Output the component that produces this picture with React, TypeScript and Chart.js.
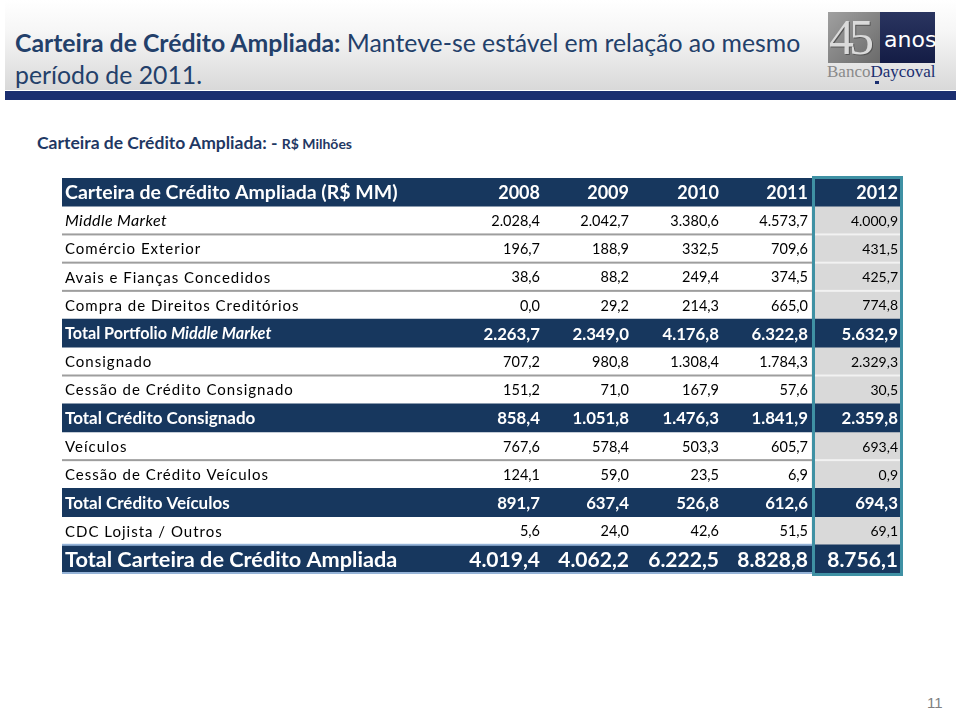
import React, { useEffect, useRef } from "react";
import { Chart, registerables } from "chart.js";

Chart.register(...registerables);

// ---------- DATA ----------
const headerTitle = "Carteira de Crédito Ampliada (R$ MM)";
const years = ["2008", "2009", "2010", "2011", "2012"];
const rowLabels = [
  "Middle Market",
  "Comércio Exterior",
  "Avais e Fianças Concedidos",
  "Compra de Direitos Creditórios",
  "Total Portfolio Middle Market",
  "Consignado",
  "Cessão de Crédito Consignado",
  "Total Crédito Consignado",
  "Veículos",
  "Cessão de Crédito Veículos",
  "Total Crédito Veículos",
  "CDC Lojista / Outros",
  "Total Carteira de Crédito Ampliada",
];
const rowKinds = ["item", "item", "item", "item", "total", "item", "item", "total", "item", "item", "total", "item", "grand"];
const v2008 = [2028.4, 196.7, 38.6, 0.0, 2263.7, 707.2, 151.2, 858.4, 767.6, 124.1, 891.7, 5.6, 4019.4];
const v2009 = [2042.7, 188.9, 88.2, 29.2, 2349.0, 980.8, 71.0, 1051.8, 578.4, 59.0, 637.4, 24.0, 4062.2];
const v2010 = [3380.6, 332.5, 249.4, 214.3, 4176.8, 1308.4, 167.9, 1476.3, 503.3, 23.5, 526.8, 42.6, 6222.5];
const v2011 = [4573.7, 709.6, 374.5, 665.0, 6322.8, 1784.3, 57.6, 1841.9, 605.7, 6.9, 612.6, 51.5, 8828.8];
const v2012 = [4000.9, 431.5, 425.7, 774.8, 5632.9, 2329.3, 30.5, 2359.8, 693.4, 0.9, 694.3, 69.1, 8756.1];
const seriesByYear = [v2008, v2009, v2010, v2011, v2012];

// ---------- LAYOUT / STYLE ----------
const TABLE_W = 841;
const COL_RIGHT = [478, 567, 657, 746, 836];
const COL2012_L = 750;
const LABEL_X = 3;
const NAVY = "#17375E";
const GRAY_CELL = "#D9D9D9";
const TEAL = "#3F91A4";
const FONT = "Lato, 'Open Sans', sans-serif";
const spacedLabels = new Set([
  "Comércio Exterior",
  "Avais e Fianças Concedidos",
  "Compra de Direitos Creditórios",
  "Consignado",
  "Cessão de Crédito Consignado",
  "Veículos",
  "Cessão de Crédito Veículos",
  "CDC Lojista / Outros",
]);

function fmt(v: number) {
  const [i, d] = v.toFixed(1).split(".");
  return i.replace(/\B(?=(\d{3})+(?!\d))/g, ".") + "," + d;
}

const tablePlugin = {
  id: "tableText",
  afterDatasetsDraw(chart: any) {
    const { ctx, scales } = chart;
    const x = scales.x;
    const y = scales.y;
    const xp = (u: number) => x.getPixelForValue(u);
    const kinds = ["header", ...rowKinds];
    const n = kinds.length;
    const rowH = Math.abs(y.getPixelForValue(1) - y.getPixelForValue(0));
    ctx.save();

    // separators
    for (let i = 0; i < n - 1; i++) {
      const yb = (y.getPixelForValue(i) + y.getPixelForValue(i + 1)) / 2;
      if (kinds[i] === "item" && kinds[i + 1] === "item") {
        ctx.fillStyle = "#9E9E9E";
        ctx.fillRect(xp(0), yb - 1, xp(COL2012_L) - xp(0), 2);
        ctx.fillStyle = "#F2F2F2";
        ctx.fillRect(xp(COL2012_L), yb - 1, xp(TABLE_W) - xp(COL2012_L), 2);
      }
      if (kinds[i + 1] === "grand") {
        ctx.fillStyle = "#95B3D7";
        ctx.fillRect(xp(0), yb - 1, xp(COL2012_L) - xp(0), 2);
      }
    }
    const lastBottom = y.getPixelForValue(n - 1) + rowH / 2;
    ctx.fillStyle = "#95B3D7";
    ctx.fillRect(xp(0), lastBottom - 1, xp(COL2012_L) - xp(0), 2);

    ctx.textBaseline = "middle";
    // header row
    const yh = y.getPixelForValue(0) + 1;
    ctx.fillStyle = "#FFFFFF";
    ctx.font = `bold 19.5px ${FONT}`;
    ctx.textAlign = "left";
    ctx.fillText(headerTitle, xp(LABEL_X), yh);
    ctx.textAlign = "right";
    ctx.font = `bold 18px ${FONT}`;
    years.forEach((yr, j) => ctx.fillText(yr, xp(COL_RIGHT[j]), yh));

    rowLabels.forEach((label, r) => {
      const kind = rowKinds[r];
      const yy = y.getPixelForValue(r + 1) + 1;
      const dark = kind !== "item";
      ctx.fillStyle = dark ? "#FFFFFF" : "#000000";
      ctx.textAlign = "left";
      (ctx as any).letterSpacing = "0px";
      if (kind === "item") {
        if (label === "Middle Market") {
          (ctx as any).letterSpacing = "0.4px";
          ctx.font = `italic 16px ${FONT}`;
        } else {
          if (spacedLabels.has(label)) (ctx as any).letterSpacing = "1px";
          ctx.font = `15px ${FONT}`;
        }
        ctx.fillText(label, xp(LABEL_X), yy);
      } else if (kind === "total") {
        if (label.startsWith("Total Portfolio ")) {
          const a = "Total Portfolio ";
          const b = label.slice(a.length);
          ctx.font = `bold 16.2px ${FONT}`;
          ctx.fillText(a, xp(LABEL_X), yy);
          const w = ctx.measureText(a).width;
          ctx.font = `italic bold 16.2px ${FONT}`;
          ctx.fillText(b, xp(LABEL_X) + w, yy);
        } else {
          ctx.font = `bold 17px ${FONT}`;
          ctx.fillText(label, xp(LABEL_X), yy);
        }
      } else {
        ctx.font = `bold 21.7px ${FONT}`;
        ctx.fillText(label, xp(LABEL_X), yy);
      }
      (ctx as any).letterSpacing = "0px";
      ctx.textAlign = "right";
      seriesByYear.forEach((vals, j) => {
        if (kind === "item") ctx.font = `${j === 4 ? 14 : 14.5}px ${FONT}`;
        else if (kind === "total") ctx.font = `bold 16.8px ${FONT}`;
        else ctx.font = `bold 21px ${FONT}`;
        ctx.fillText(fmt(vals[r]), xp(COL_RIGHT[j]), yy);
      });
    });

    // teal border around 2012 column
    const top = y.getPixelForValue(0) - rowH / 2 - 0.5;
    const bottom = lastBottom + 1.5;
    ctx.strokeStyle = TEAL;
    ctx.lineWidth = 3;
    ctx.strokeRect(xp(COL2012_L) + 1.5, top, xp(TABLE_W) - xp(COL2012_L) - 3, bottom - top);
    ctx.restore();
  },
};

function TableChart() {
  const ref = useRef<HTMLCanvasElement | null>(null);
  useEffect(() => {
    if (!ref.current) return;
    const kinds = ["header", ...rowKinds];
    const chart = new Chart(ref.current, {
      type: "bar",
      data: {
        labels: [headerTitle, ...rowLabels],
        datasets: [
          {
            label: "bands",
            data: kinds.map((k) => (k === "item" ? null : [0, TABLE_W])) as any,
            backgroundColor: NAVY,
            grouped: false,
            barPercentage: 1,
            categoryPercentage: 1,
          } as any,
          {
            label: "2012",
            data: kinds.map((k) => (k === "item" ? [COL2012_L, TABLE_W] : null)) as any,
            backgroundColor: GRAY_CELL,
            grouped: false,
            barPercentage: 1,
            categoryPercentage: 1,
          } as any,
        ],
      },
      options: {
        indexAxis: "y",
        animation: false,
        responsive: false,
        events: [],
        layout: { padding: { left: 2, right: 3, top: 4, bottom: 5 } },
        plugins: { legend: { display: false }, tooltip: { enabled: false } },
        scales: {
          x: { type: "linear", min: 0, max: TABLE_W, display: false },
          y: { type: "category", display: false, offset: true },
        },
      } as any,
      plugins: [tablePlugin],
    });
    return () => chart.destroy();
  }, []);
  return <canvas ref={ref} width={846} height={404} style={{ position: "absolute", left: 60, top: 174 }} />;
}

export default function App() {
  useEffect(() => {
    document.body.style.margin = "0";
  }, []);
  const navyText = "#1F3864";
  return (
    <div style={{ position: "relative", width: 960, height: 711, overflow: "hidden", background: "#fff", fontFamily: FONT }}>
      <div
        style={{
          position: "absolute",
          left: 5,
          top: 0,
          width: 951,
          height: 90,
          background: "linear-gradient(#ffffff 0%, #f6f6f6 35%, #d9d9d9 100%)",
        }}
      />
      <div style={{ position: "absolute", left: 5, top: 91, width: 951, height: 9, background: "#1B2F70" }} />
      <div
        style={{
          position: "absolute",
          left: 15,
          top: 27,
          fontSize: 24.8,
          lineHeight: "32px",
          color: "#23406A",
          whiteSpace: "nowrap",
        }}
      >
        <div>
          <b>Carteira de Crédito Ampliada:</b> Manteve-se estável em relação ao mesmo
        </div>
        <div>período de 2011.</div>
      </div>
      {/* logo */}
      <div style={{ position: "absolute", left: 828, top: 12, width: 52, height: 51, background: "linear-gradient(135deg,#a0a0a0,#6a6a6a)", overflow: "hidden" }}>
        <div style={{ position: "absolute", left: 1, top: -3, fontFamily: "'Liberation Serif', serif", fontSize: 50, lineHeight: "56px", color: "#dadada", letterSpacing: -5, textShadow: "1px 1px 0 #555" }}>45</div>
      </div>
      <div style={{ position: "absolute", left: 880, top: 12, width: 55, height: 51, background: "linear-gradient(#2a3560,#141c45)" }}>
        <div style={{ position: "absolute", left: 4, top: 15, fontSize: 22, color: "#fff", fontFamily: "'DejaVu Sans', sans-serif" }}>anos</div>
      </div>
      <div style={{ position: "absolute", left: 827, top: 62, fontFamily: "'Liberation Serif', serif", fontSize: 17, whiteSpace: "nowrap" }}>
        <span style={{ color: "#8a8a8a" }}>Banco</span>
        <span style={{ color: "#1B2F70" }}>Daycoval</span>
      </div>
      <div style={{ position: "absolute", left: 875, top: 81, width: 4, height: 3, background: "#1B2F70" }} />

      <div
        style={{
          position: "absolute",
          left: 37,
          top: 132,
          fontSize: 17.5,
          fontWeight: "bold",
          color: navyText,
          whiteSpace: "nowrap",
        }}
      >
        Carteira de Crédito Ampliada: - <span style={{ fontSize: 14 }}>R$ Milhões</span>
      </div>

      <TableChart />

      <div style={{ position: "absolute", left: 927, top: 694, fontSize: 15, color: "#808080", fontFamily: "'Liberation Sans Narrow', 'Liberation Sans', sans-serif" }}>11</div>
    </div>
  );
}
